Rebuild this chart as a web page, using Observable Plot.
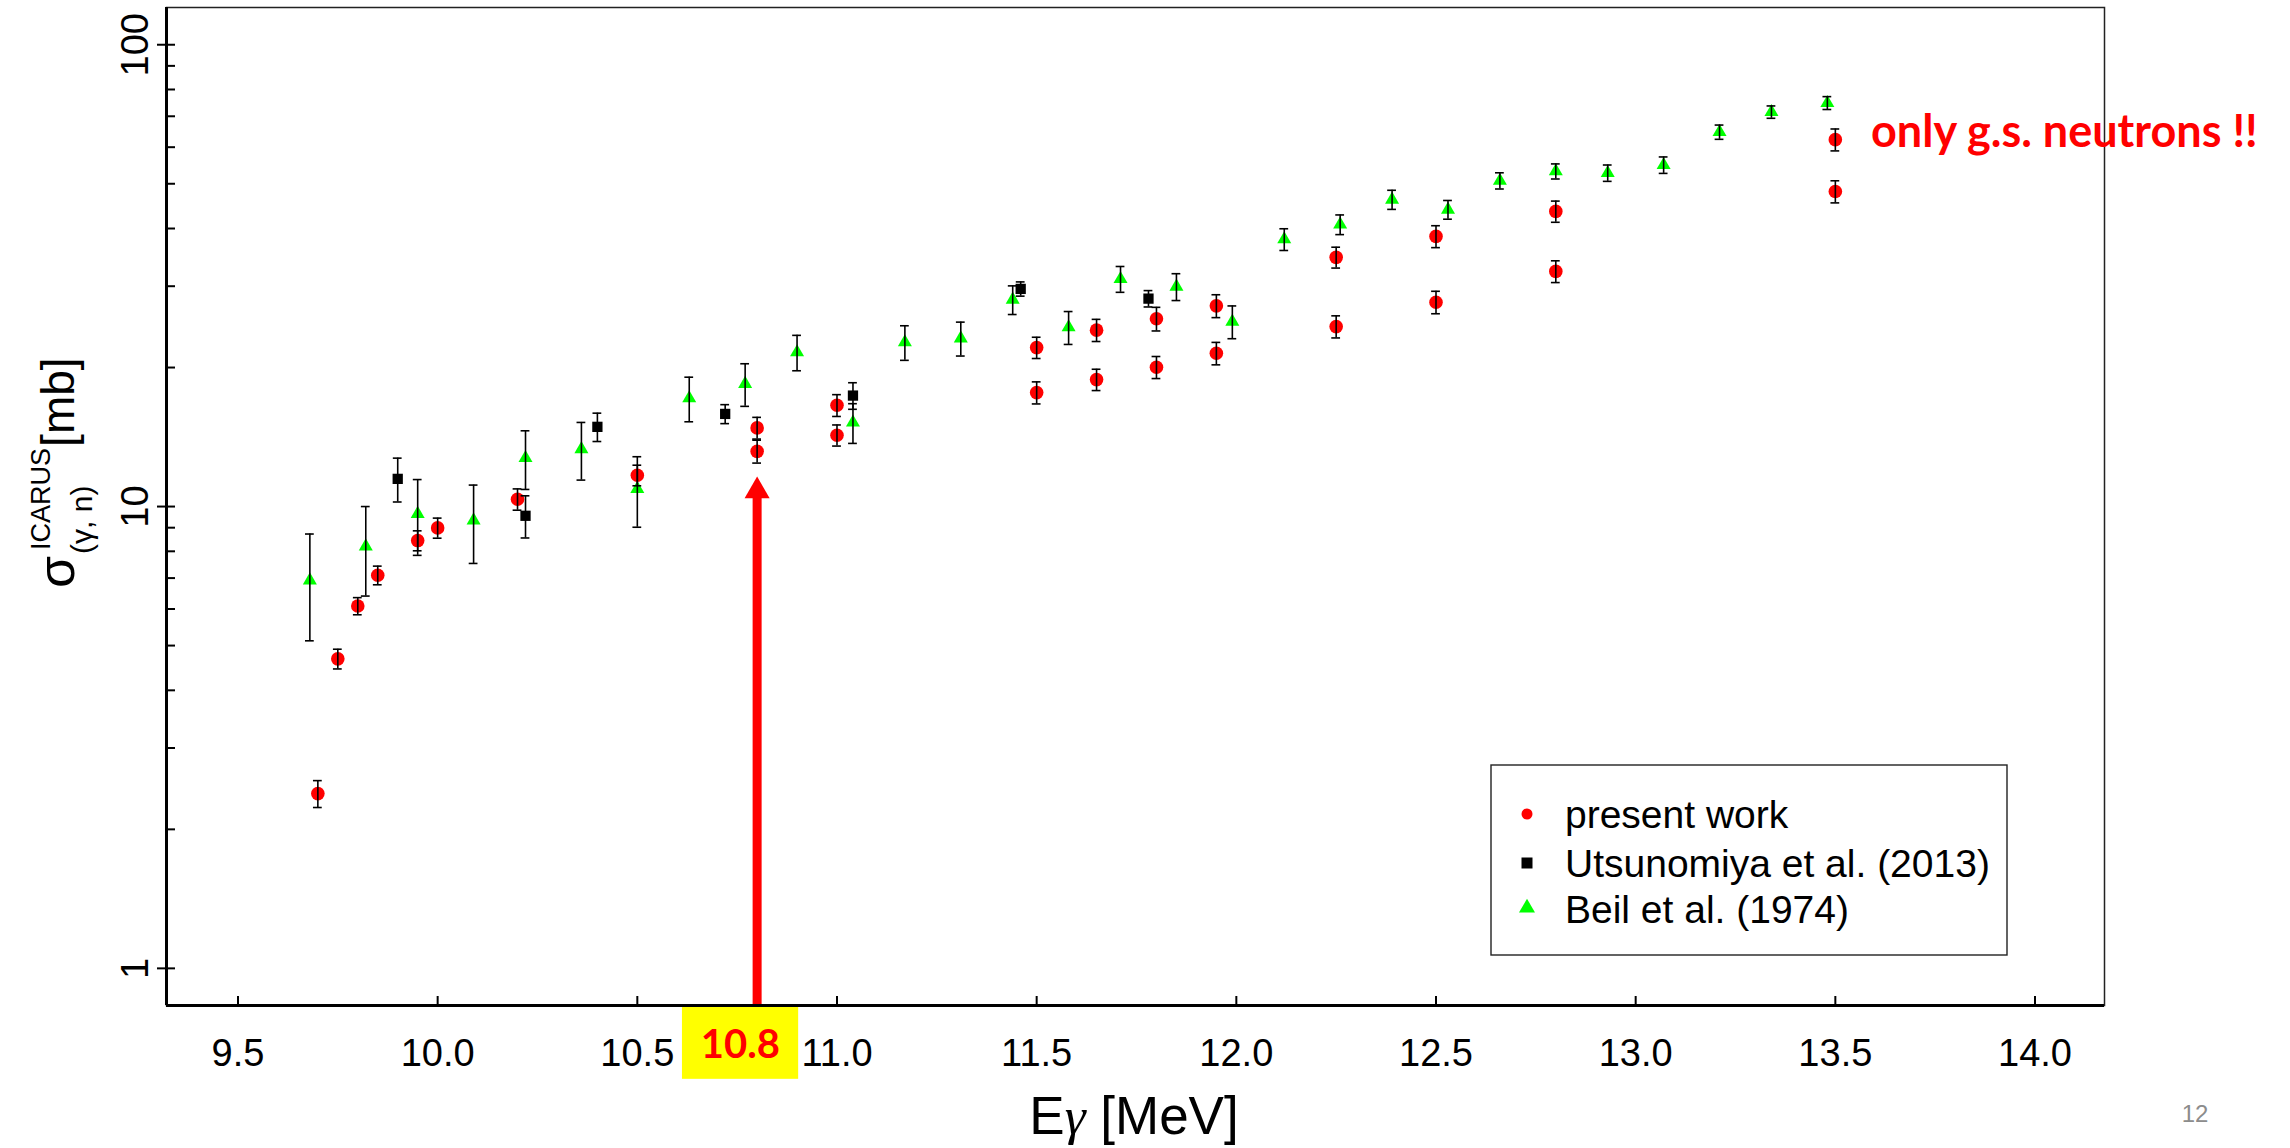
<!DOCTYPE html>
<html><head><meta charset="utf-8">
<script src="https://cdn.jsdelivr.net/npm/d3@7"></script>
<script src="https://cdn.jsdelivr.net/npm/@observablehq/plot@0.6"></script>
<style>
html,body{margin:0;padding:0;background:#fff;}
#chart{position:relative;width:2290px;height:1148px;overflow:hidden;}
</style>
</head><body><div id="chart"></div>
<script>
// ---------- data ----------
const presentE     = [9.70, 9.75, 9.80, 9.85, 9.95, 10.00, 10.20, 10.50, 10.80, 10.80, 11.00, 11.00, 11.50, 11.50, 11.65, 11.65, 11.80, 11.80, 11.95, 11.95, 12.25, 12.25, 12.50, 12.50, 12.80, 12.80, 13.50, 13.50];
const presentSigma = [2.39, 4.68, 6.09, 7.10, 8.44, 8.99, 10.37, 11.69, 14.80, 13.17, 16.57, 14.27, 22.09, 17.65, 24.1, 18.83, 25.5, 20.03, 27.2, 21.47, 34.64, 24.53, 38.46, 27.7, 43.56, 32.3, 62.3, 48.1];
const presentErr   = [0.16, 0.23, 0.26, 0.33, 0.42, 0.45, 0.55, 0.6, 0.8, 0.75, 0.9, 0.75, 1.17, 0.97, 1.33, 1.0, 1.5, 1.1, 1.55, 1.2, 1.8, 1.35, 2.1, 1.55, 2.3, 1.75, 3.4, 2.65];

const utsE     = [9.90, 10.22, 10.40, 10.72, 11.04, 11.46, 11.78];
const utsSigma = [11.48, 9.55, 14.88, 15.87, 17.39, 29.6, 28.2];
const utsErr   = [1.25, 1.0, 1.05, 0.75, 1.15, 1.05, 1.15];

const beilE     = [9.68, 9.82, 9.95, 10.09, 10.22, 10.36, 10.50, 10.63, 10.77, 10.90, 11.04, 11.17, 11.31, 11.44, 11.58, 11.71, 11.85, 11.99, 12.12, 12.26, 12.39, 12.53, 12.66, 12.80, 12.93, 13.07, 13.21, 13.34, 13.48];
const beilSigma = [6.92, 8.20, 9.64, 9.33, 12.74, 13.31, 10.92, 17.16, 18.43, 21.58, 15.2, 22.68, 23.13, 28.05, 24.44, 31.1, 29.93, 25.14, 37.9, 40.8, 46.2, 43.95, 50.76, 53.2, 52.75, 54.9, 64.7, 71.5, 74.8];
const beilErr   = [1.8, 1.8, 1.8, 1.8, 1.85, 1.9, 1.9, 1.9, 1.95, 1.9, 1.5, 1.95, 1.95, 2.0, 2.0, 2.0, 2.0, 2.05, 2.05, 2.0, 2.2, 2.05, 2.05, 2.0, 2.15, 2.25, 2.3, 2.2, 2.4];

const seriesNames = ["present work", "Utsunomiya et al. (2013)", "Beil et al. (1974)"];
const xTicks = [9.5, 10.0, 10.5, 11.0, 11.5, 12.0, 12.5, 13.0, 13.5, 14.0];
const yMajorTicks = [1, 10, 100];
const yMinorTicks = [2, 3, 4, 5, 6, 7, 8, 9, 20, 30, 40, 50, 60, 70, 80, 90];
const highlightE = 10.8;
const highlightLabel = "10.8";
const noteText = "only g.s. neutrons !!";
const pageNumber = "12";

// ---------- layout / style ----------
const W = 2290, H = 1148;
const mL = 166, mR = 186, mT = 7, mB = 143;
const frameW = W - mL - mR, frameH = H - mT - mB;
const xDomain = [9.321, 14.174];
const yDomain = [0.831, 120.4];
const RED = "#ff0000", GREEN = "#00ff00", BLACK = "#000000";
const FONT = "'Liberation Sans', Arial, sans-serif";
const tickLen = 9;
const capHalf = 0.011;

const rows = (E, S, Er) => E.map((x, i) => ({x, y: S[i], e: Er[i]}));
const present = rows(presentE, presentSigma, presentErr);
const uts = rows(utsE, utsSigma, utsErr);
const beil = rows(beilE, beilSigma, beilErr);
const allPts = [...present, ...uts, ...beil];

const errMarks = (data) => [
  Plot.ruleX(data, {x: "x", y1: d => d.y - d.e, y2: d => d.y + d.e, stroke: BLACK, strokeWidth: 1.6}),
  Plot.ruleY(data, {y: d => d.y + d.e, x1: d => d.x - capHalf, x2: d => d.x + capHalf, stroke: BLACK, strokeWidth: 1.6}),
  Plot.ruleY(data, {y: d => d.y - d.e, x1: d => d.x - capHalf, x2: d => d.x + capHalf, stroke: BLACK, strokeWidth: 1.6})
];

const fmt1 = d3.format(".1f");

const plot = Plot.plot({
  width: W, height: H,
  marginLeft: mL, marginRight: mR, marginTop: mT, marginBottom: mB,
  x: {domain: xDomain, axis: null},
  y: {type: "log", domain: yDomain, axis: null},
  style: {fontFamily: FONT, fontSize: "38px", background: "white", color: "black", overflow: "visible"},
  marks: [
    Plot.frame({stroke: "#222", strokeWidth: 1.5}),
    // annotation: highlight box under the axis
    Plot.rect([highlightE], {x1: 10.613, x2: 10.904, y1: 0.5751, y2: 0.8234, fill: "#ffff00"}),
    // markers
    Plot.dot(beil, {x: "x", y: "y", symbol: "triangle", r: 5.2, fill: GREEN, stroke: "none"}),
    Plot.dot(uts, {x: "x", y: "y", symbol: "square", r: 5.8, fill: BLACK, stroke: "none"}),
    Plot.dot(present, {x: "x", y: "y", symbol: "circle", r: 6.8, fill: RED, stroke: "none"}),
    ...errMarks(allPts),
    // arrow at 10.8 MeV
    Plot.ruleX([highlightE], {x: d => d, y1: yDomain[0], y2: 10.6, stroke: RED, strokeWidth: 9}),
    Plot.dot([highlightE], {x: d => d, y: 10.81, symbol: "triangle", r: 9.3, fill: RED, stroke: "none"}),
    // axes lines
    Plot.ruleX([xDomain[0]], {x: d => d, stroke: BLACK, strokeWidth: 3}),
    Plot.ruleY([yDomain[0]], {y: d => d, stroke: BLACK, strokeWidth: 3}),
    // x ticks (inside)
    Plot.tickX(xTicks, {x: d => d, insetTop: frameH - tickLen, stroke: BLACK, strokeWidth: 2}),
    // y ticks
    Plot.tickY(yMinorTicks, {y: d => d, insetRight: frameW - tickLen, stroke: BLACK, strokeWidth: 2}),
    Plot.tickY(yMajorTicks, {y: d => d, insetLeft: -tickLen, insetRight: frameW - tickLen, stroke: BLACK, strokeWidth: 2}),
    // tick labels
    Plot.text(xTicks, {x: d => d, frameAnchor: "bottom", dy: 48, text: d => fmt1(d), fontSize: 38, lineAnchor: "middle", textAnchor: "middle", fill: BLACK}),
    Plot.text(yMajorTicks, {y: d => d, frameAnchor: "left", dx: -31, rotate: -90, text: d => String(d), fontSize: 38, lineAnchor: "middle", textAnchor: "middle", fill: BLACK}),
    // highlighted label
    Plot.text([highlightLabel], {x: 10.758, y: 0.681, text: d => d, fontSize: 40, fontWeight: "bold", fontFamily: "Lato, 'Open Sans', sans-serif", fill: RED, lineAnchor: "middle", textAnchor: "middle"})
  ]
});

document.getElementById("chart").appendChild(plot);

const svg = d3.select(plot);

// ---------- y axis label: σ^ICARUS_(γ, n) [mb] ----------
const yl = svg.append("g").attr("transform", "translate(74,588) rotate(-90)")
  .attr("fill", "black").attr("text-anchor", "start").style("font-family", FONT);
const sig = yl.append("text").attr("x", 0).attr("y", 0).attr("font-size", 52).attr("text-anchor", "start").text("σ");
const sigW = sig.node().getComputedTextLength();
const sub = yl.append("text").attr("x", sigW + 2).attr("y", 18).attr("font-size", 30).attr("text-anchor", "start").text("(γ, n)");
const sup = yl.append("text").attr("x", sigW + 6).attr("y", -24).attr("font-size", 27).attr("text-anchor", "start").text("ICARUS");
const endSub = sigW + 2 + sub.node().getComputedTextLength();
const endSup = sigW + 6 + sup.node().getComputedTextLength();
yl.append("text").attr("x", Math.max(endSub, endSup) + 1).attr("y", 0).attr("font-size", 46).attr("text-anchor", "start").text("[mb]");

// ---------- x axis label ----------
const xl = svg.append("text").attr("x", 1134).attr("y", 1134).attr("text-anchor", "middle")
  .attr("font-size", 53).style("font-family", FONT).attr("fill", "black");
xl.append("tspan").text("E");
xl.append("tspan").style("font-family", "'Liberation Serif', 'DejaVu Serif', serif").style("font-style", "italic").text("γ");
xl.append("tspan").text(" [MeV]");

// ---------- note ----------
svg.append("text").attr("x", 1871).attr("y", 147).attr("text-anchor", "start").attr("font-size", 45).attr("font-weight", "bold")
  .style("font-family", "Lato, 'Open Sans', sans-serif").attr("fill", RED).text(noteText);

// ---------- page number ----------
svg.append("text").attr("x", 2195).attr("y", 1122).attr("text-anchor", "middle").attr("font-size", 24)
  .style("font-family", FONT).attr("fill", "#8c8c8c").text(pageNumber);

// ---------- legend ----------
const lg = svg.append("g").style("font-family", FONT).attr("text-anchor", "start");
lg.append("rect").attr("x", 1491).attr("y", 765).attr("width", 516).attr("height", 190)
  .attr("fill", "white").attr("stroke", "#222").attr("stroke-width", 1.4);
const legendItems = [
  {name: seriesNames[0], sym: d3.symbolCircle, size: Math.PI * 5.5 * 5.5, fill: RED, cy: 814, base: 828},
  {name: seriesNames[1], sym: d3.symbolSquare, size: 121, fill: BLACK, cy: 863, base: 877},
  {name: seriesNames[2], sym: d3.symbolTriangle, size: 111, fill: GREEN, cy: 908, base: 923}
];
for (const it of legendItems) {
  lg.append("path").attr("d", d3.symbol(it.sym, it.size)()).attr("transform", `translate(1527,${it.cy})`).attr("fill", it.fill);
  lg.append("text").attr("x", 1565).attr("y", it.base).attr("font-size", 39).attr("text-anchor", "start").attr("fill", "black").text(it.name);
}
</script>
</body></html>
